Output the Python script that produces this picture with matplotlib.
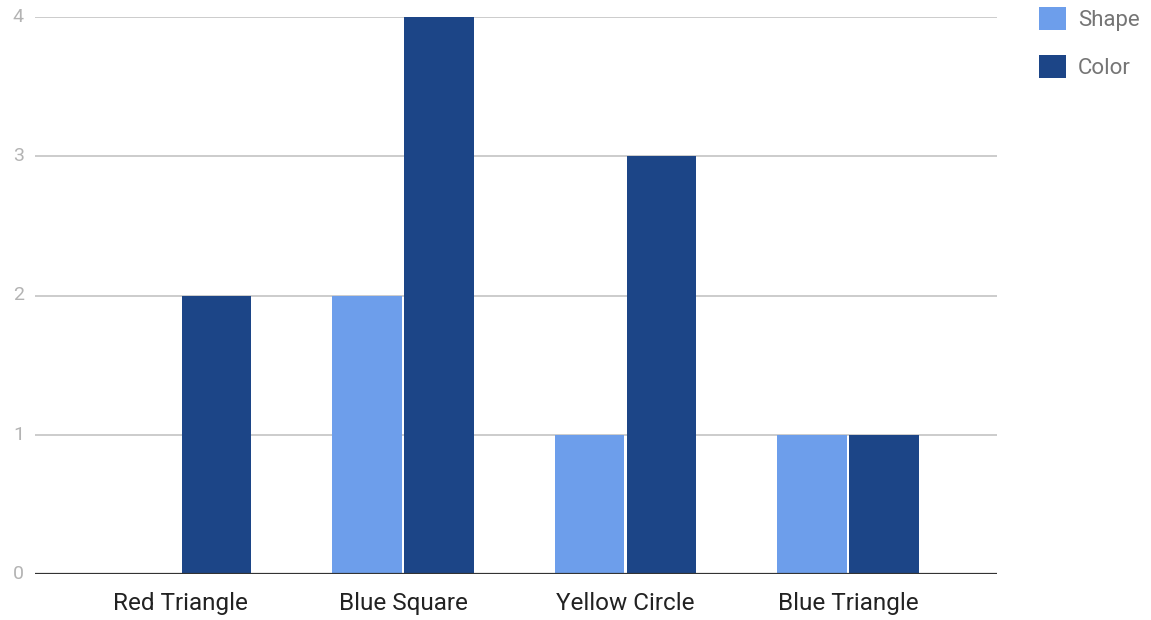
import matplotlib.pyplot as plt
import numpy as np

categories = ['Red Triangle', 'Blue Square', 'Yellow Circle', 'Blue Triangle']
shape_counts = [0, 2, 1, 1]
color_counts = [2, 4, 3, 1]
y_ticks = [0, 1, 2, 3, 4]

plt.rcParams['font.family'] = ['Roboto', 'DejaVu Sans']

fig = plt.figure(figsize=(11.51, 6.20), dpi=100)
ax = fig.add_axes([35 / 1151, 46 / 620, 962 / 1151, 557 / 620])

x = np.arange(len(categories))
width = 0.312
gap = 0.006

ax.bar(x - width / 2 - gap, shape_counts, width, color='#6d9eeb', label='Shape', zorder=3)
ax.bar(x + width / 2 + gap, color_counts, width, color='#1c4587', label='Color', zorder=3)

ax.set_xlim(-0.655, 3.67)
ax.set_ylim(0, 4)
ax.set_yticks(y_ticks)
ax.set_yticklabels([str(t) for t in y_ticks])
ax.set_xticks(x)
ax.set_xticklabels(categories)

ax.grid(True, axis='y', color='#cccccc', linewidth=1.4, zorder=0)
ax.axhline(0, color='#333333', linewidth=1.6, zorder=4)
for side in ['top', 'right', 'left', 'bottom']:
    ax.spines[side].set_visible(False)

ax.tick_params(axis='y', length=0, pad=8, labelsize=14, labelcolor='#b3b3b3')
ax.tick_params(axis='x', length=0, pad=13, labelsize=17.5, labelcolor='#222222')
for lbl in ax.get_yticklabels():
    lbl.set_verticalalignment('center')

leg = ax.legend(loc='upper left', bbox_to_anchor=(1030 / 1151, 1 + 2 / 620),
                bbox_transform=fig.transFigure, frameon=False,
                handlelength=1.2, handleheight=1.2, handletextpad=0.55,
                labelspacing=1.1, fontsize=16, borderaxespad=0)
for t in leg.get_texts():
    t.set_color('#757575')

fig.savefig('out.png', dpi=100)
